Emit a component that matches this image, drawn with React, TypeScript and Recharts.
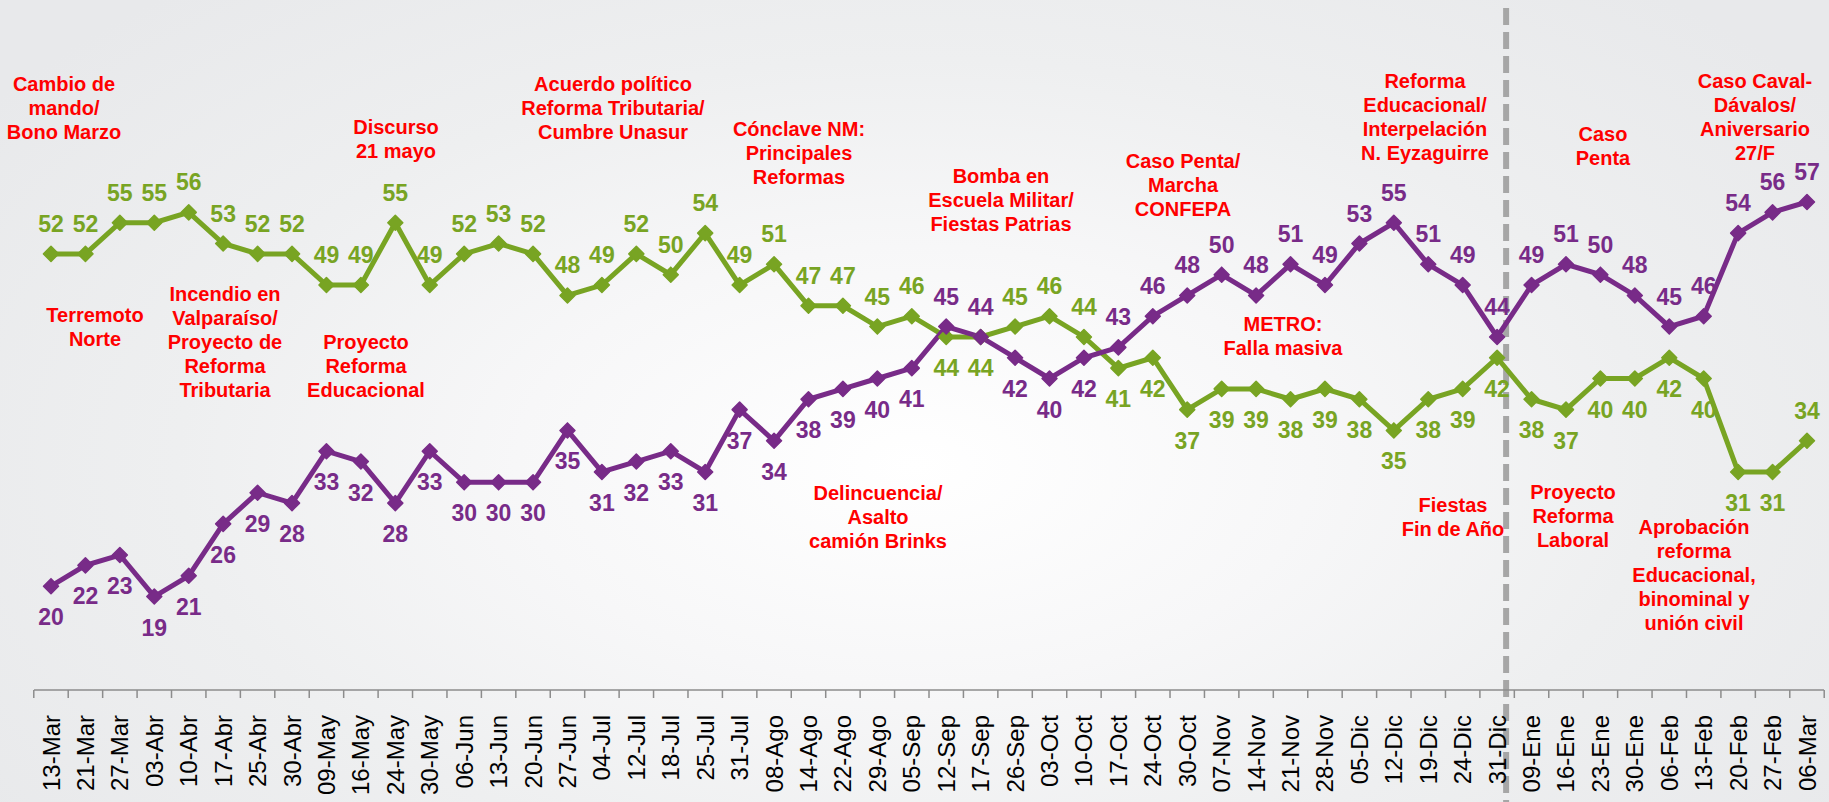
import React from "react";
import { LineChart, Line, XAxis, YAxis, ReferenceLine, LabelList } from "recharts";

const dates = [
  "13-Mar", "21-Mar", "27-Mar", "03-Abr", "10-Abr", "17-Abr", "25-Abr", "30-Abr",
  "09-May", "16-May", "24-May", "30-May", "06-Jun", "13-Jun", "20-Jun", "27-Jun",
  "04-Jul", "12-Jul", "18-Jul", "25-Jul", "31-Jul", "08-Ago", "14-Ago", "22-Ago",
  "29-Ago", "05-Sep", "12-Sep", "17-Sep", "26-Sep", "03-Oct", "10-Oct", "17-Oct",
  "24-Oct", "30-Oct", "07-Nov", "14-Nov", "21-Nov", "28-Nov", "05-Dic", "12-Dic",
  "19-Dic", "24-Dic", "31-Dic", "09-Ene", "16-Ene", "23-Ene", "30-Ene", "06-Feb",
  "13-Feb", "20-Feb", "27-Feb", "06-Mar",
];

// verde
const aprobacion = [
  52, 52, 55, 55, 56, 53, 52, 52, 49, 49, 55, 49, 52, 53, 52, 48, 49, 52, 50, 54,
  49, 51, 47, 47, 45, 46, 44, 44, 45, 46, 44, 41, 42, 37, 39, 39, 38, 39, 38, 35,
  38, 39, 42, 38, 37, 40, 40, 42, 40, 31, 31, 34,
];

// morado
const desaprobacion = [
  20, 22, 23, 19, 21, 26, 29, 28, 33, 32, 28, 33, 30, 30, 30, 35, 31, 32, 33, 31,
  37, 34, 38, 39, 40, 41, 45, 44, 42, 40, 42, 43, 46, 48, 50, 48, 51, 49, 53, 55,
  51, 49, 44, 49, 51, 50, 48, 45, 46, 54, 56, 57,
];

const corte = "31-Dic";

const eventos = [
  { lines: ["Cambio de", "mando/", "Bono Marzo"], x: 64, y: 84 },
  { lines: ["Terremoto", "Norte"], x: 95, y: 315 },
  { lines: ["Incendio en", "Valparaíso/", "Proyecto de", "Reforma", "Tributaria"], x: 225, y: 294 },
  { lines: ["Discurso", "21 mayo"], x: 396, y: 127 },
  { lines: ["Proyecto", "Reforma", "Educacional"], x: 366, y: 342 },
  { lines: ["Acuerdo político", "Reforma Tributaria/", "Cumbre Unasur"], x: 613, y: 84 },
  { lines: ["Cónclave NM:", "Principales", "Reformas"], x: 799, y: 129 },
  { lines: ["Bomba en", "Escuela Militar/", "Fiestas Patrias"], x: 1001, y: 176 },
  { lines: ["Delincuencia/", "Asalto", "camión Brinks"], x: 878, y: 493 },
  { lines: ["Caso Penta/", "Marcha", "CONFEPA"], x: 1183, y: 161 },
  { lines: ["METRO:", "Falla masiva"], x: 1283, y: 324 },
  { lines: ["Reforma", "Educacional/", "Interpelación", "N. Eyzaguirre"], x: 1425, y: 81 },
  { lines: ["Fiestas", "Fin de Año"], x: 1453, y: 505 },
  { lines: ["Caso", "Penta"], x: 1603, y: 134 },
  { lines: ["Proyecto", "Reforma", "Laboral"], x: 1573, y: 492 },
  { lines: ["Caso Caval-", "Dávalos/", "Aniversario", "27/F"], x: 1755, y: 81 },
  { lines: ["Aprobación", "reforma", "Educacional,", "binominal y", "unión civil"], x: 1694, y: 527 },
];

const data = dates.map((d, i) => ({ fecha: d, aprob: aprobacion[i], desaprob: desaprobacion[i] }));

const W = 1829;
const H = 802;
const FONT = "'Liberation Sans', Arial, sans-serif";
const GREEN = "#78a423";
const PURPLE = "#782b88";
const PLOT_LEFT = 34;
const PLOT_RIGHT = 5;
const PAD = 17;
const STEP = (W - PLOT_LEFT - PLOT_RIGHT - PAD * 2) / (dates.length - 1);

const diamond = (color: string) => (props: any) => {
  const { cx, cy, index } = props;
  if (cx == null || cy == null) return <g key={index} />;
  const r = 7.5;
  return (
    <polygon
      key={index}
      points={`${cx},${cy - r} ${cx + r},${cy} ${cx},${cy + r} ${cx - r},${cy}`}
      fill={color}
      stroke={color}
      strokeWidth={1.5}
      strokeLinejoin="round"
    />
  );
};

const valueLabel = (color: string, own: number[], other: number[], purple: boolean) => (props: any) => {
  const { x, y, value, index } = props;
  const last = index === own.length - 1;
  const above = purple ? own[index] >= other[index] : own[index] > other[index] || last;
  return (
    <text
      x={x}
      y={above ? y - 30 : y + 31}
      fill={color}
      fontSize={23}
      fontWeight="bold"
      fontFamily={FONT}
      textAnchor="middle"
      dominantBaseline="central"
    >
      {value}
    </text>
  );
};

const DateTick = (props: any) => {
  const { x, y, payload, index } = props;
  const axisY = y - 25;
  const last = index === dates.length - 1;
  return (
    <g>
      <line x1={x - STEP / 2} x2={x - STEP / 2} y1={axisY} y2={axisY + 8} stroke="#8c8c8c" strokeWidth={1.5} />
      {last && <line x1={x + STEP / 2} x2={x + STEP / 2} y1={axisY} y2={axisY + 8} stroke="#8c8c8c" strokeWidth={1.5} />}
      <text
        transform={`translate(${x},${y}) rotate(-90)`}
        textAnchor="end"
        dominantBaseline="central"
        fontSize={24}
        fontFamily={FONT}
        fill="#000"
      >
        {payload.value}
      </text>
    </g>
  );
};

const CutLine = (p: any) => {
  const top = Math.min(p.y1, p.y2);
  const bottom = Math.max(p.y1, p.y2);
  return (
    <line
      x1={p.x1 + 9}
      x2={p.x2 + 9}
      y1={top - 59}
      y2={bottom + 112}
      stroke="#a6a6a6"
      strokeWidth={6}
      strokeDasharray="17 7"
    />
  );
};

export default function App() {
  return (
    <div
      style={{
        position: "absolute",
        left: 0,
        top: 0,
        width: W,
        height: H,
        overflow: "hidden",
        background:
          "radial-gradient(ellipse 62% 78% at 50% 58%, #ffffff 0%, #f7f7f8 35%, #eeeff0 65%, #e8e9eb 100%)",
      }}
    >
      <LineChart width={W} height={H} data={data} margin={{ top: 67, right: PLOT_RIGHT, left: PLOT_LEFT, bottom: 0 }}>
        <YAxis hide domain={[10, 70]} />
        <XAxis
          dataKey="fecha"
          height={112}
          interval={0}
          padding={{ left: PAD, right: PAD }}
          tickSize={8}
          tickMargin={17}
          tickLine={false}
          axisLine={{ stroke: "#8c8c8c", strokeWidth: 1.5 }}
          tick={<DateTick />}
        />
        <ReferenceLine x={corte} shape={CutLine} />
        <Line
          dataKey="aprob"
          stroke={GREEN}
          strokeWidth={5}
          dot={diamond(GREEN)}
          activeDot={false}
          isAnimationActive={false}
        >
          <LabelList dataKey="aprob" content={valueLabel(GREEN, aprobacion, desaprobacion, false)} />
        </Line>
        <Line
          dataKey="desaprob"
          stroke={PURPLE}
          strokeWidth={5}
          dot={diamond(PURPLE)}
          activeDot={false}
          isAnimationActive={false}
        >
          <LabelList dataKey="desaprob" content={valueLabel(PURPLE, desaprobacion, aprobacion, true)} />
        </Line>
      </LineChart>
      <svg width={W} height={H} style={{ position: "absolute", left: 0, top: 0, pointerEvents: "none" }}>
        {eventos.map((ev, i) => (
          <text
            key={i}
            x={ev.x}
            y={ev.y}
            fill="#ff0000"
            fontSize={20}
            fontWeight="bold"
            fontFamily={FONT}
            textAnchor="middle"
            dominantBaseline="central"
          >
            {ev.lines.map((l, j) => (
              <tspan key={j} x={ev.x} dy={j === 0 ? 0 : 24}>
                {l}
              </tspan>
            ))}
          </text>
        ))}
      </svg>
    </div>
  );
}
